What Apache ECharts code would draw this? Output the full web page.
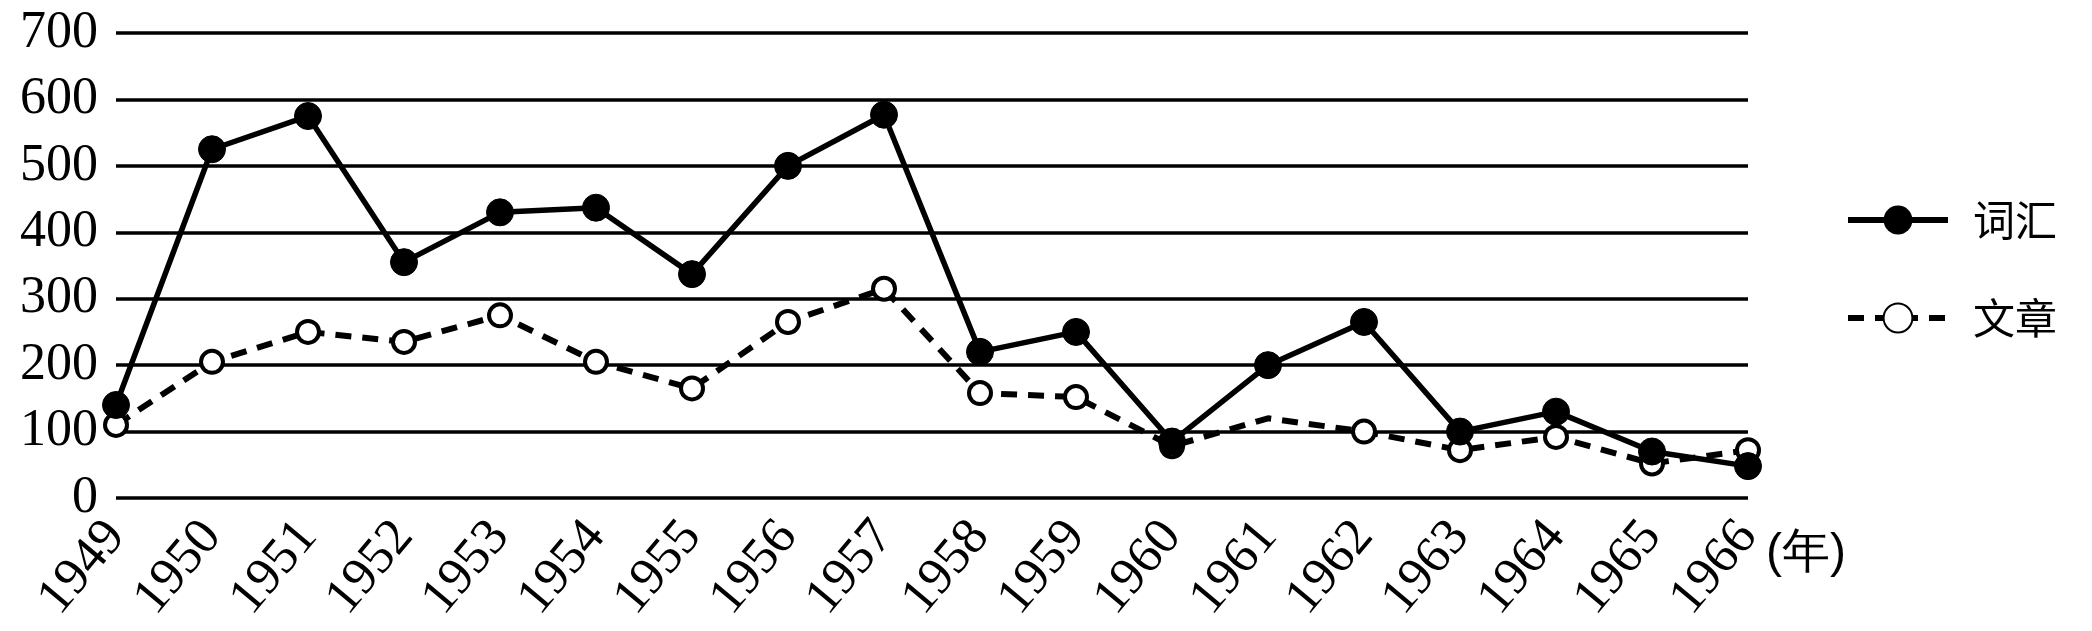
<!DOCTYPE html>
<html><head><meta charset="utf-8">
<script src="https://cdn.jsdelivr.net/npm/echarts@6/dist/echarts.min.js"></script>
<style>html,body{margin:0;padding:0;background:#fff}#c{width:2092px;height:631px}</style>
</head><body><div id="c"></div>
<script>
const years = ['1949','1950','1951','1952','1953','1954','1955','1956','1957','1958','1959','1960','1961','1962','1963','1964','1965','1966'];
const vocab = [140,525,575,355,430,437,337,500,577,220,250,85,200,265,100,130,70,48];
const articles = [110,205,250,235,275,205,165,265,315,158,152,78,120,100,72,92,52,72];
const articlesNoMarker = ['1961'];
const yTicks = [0,100,200,300,400,500,600,700];
const unitLabel = '(年)';

const serif = '"Liberation Serif","Times New Roman","Noto Sans CJK SC",serif';
const chart = echarts.init(document.getElementById('c'));
chart.setOption({
  animation:false,
  backgroundColor:'#fff',
  grid:{left:116,right:344,top:33,bottom:133,containLabel:false},
  legend:{
    orient:'vertical', right:30, top:194, itemGap:56, itemWidth:100, itemHeight:36,
    lineStyle:{width:6},
    textStyle:{fontSize:42,color:'#000',fontFamily:'"Noto Sans CJK SC",serif',padding:[0,0,0,20]},
    data:['词汇','文章']
  },
  xAxis:{
    type:'category', data:years, boundaryGap:false,
    axisLine:{show:false}, axisTick:{show:false},
    axisLabel:{rotate:50, margin:30, fontSize:52, color:'#000', fontFamily:serif, interval:0}
  },
  yAxis:{
    type:'value', min:yTicks[0], max:yTicks[yTicks.length-1], interval:100,
    axisLine:{show:false}, axisTick:{show:false},
    axisLabel:{fontSize:52, color:'#000', fontFamily:serif, margin:18},
    splitLine:{lineStyle:{color:'#000',width:3.5}}
  },
  graphic:[{type:'text', left:1766, top:530, style:{text:unitLabel, fontSize:48, fill:'#000', font:'48px '+serif}}],
  series:[
    {name:'文章', type:'line', data:articles.map((v,i)=>articlesNoMarker.includes(years[i])?{value:v,symbol:'none'}:v),
     symbol:'circle', symbolSize:22,
     lineStyle:{color:'#000',width:6,type:[16,11]},
     itemStyle:{color:'#fff',borderColor:'#000',borderWidth:4}, z:3},
    {name:'词汇', type:'line', data:vocab, symbol:'circle', symbolSize:27,
     lineStyle:{color:'#000',width:5.5},
     itemStyle:{color:'#000',borderColor:'#000'}, z:4}
  ]
});
</script></body></html>
